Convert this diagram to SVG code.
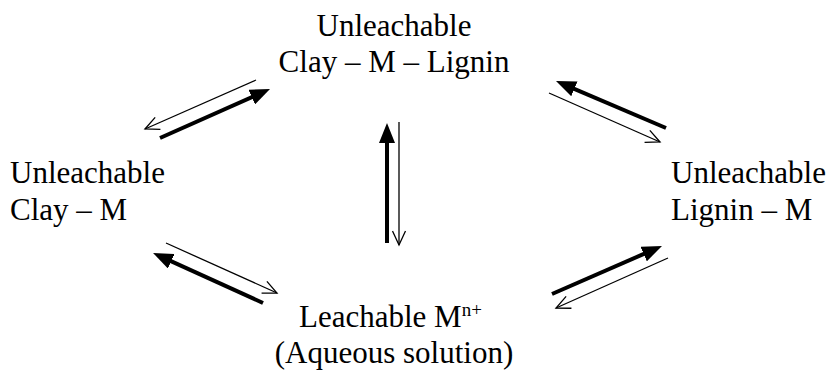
<svg xmlns="http://www.w3.org/2000/svg" width="832" height="371" viewBox="0 0 832 371">
<style>
text{font-family:'Liberation Serif',Tinos,'Times New Roman',Times,'DejaVu Serif',serif;font-size:31px;fill:#000}
.thin{stroke:#000;stroke-width:1.3;fill:none;marker-end:url(#oh)}
.thick{stroke:#000;stroke-width:4;fill:none;marker-end:url(#fh)}
</style>
<defs>
<marker id="fh" viewBox="0 0 20 16" markerWidth="20" markerHeight="16" refX="4" refY="8" orient="auto" markerUnits="userSpaceOnUse"><path d="M0,0 L20,8 L0,16 Z" fill="#000"/></marker>
<marker id="oh" viewBox="-1 -1 17 15" markerWidth="17" markerHeight="15" refX="14" refY="6.5" orient="auto" markerUnits="userSpaceOnUse"><path d="M0,0 L14,6.5 L0,13" fill="none" stroke="#000" stroke-width="1.3"/></marker>
</defs>
<g id="node-top" font-family="Liberation Serif, serif"><text x="394" y="36" text-anchor="middle">Unleachable</text><text x="394" y="72" text-anchor="middle">Clay – M – Lignin</text></g>
<g id="node-left"><text x="10" y="183">Unleachable</text><text x="10" y="220">Clay – M</text></g>
<g id="node-right"><text x="671" y="183">Unleachable</text><text x="671" y="220">Lignin – M</text></g>
<g id="node-bottom"><text x="299" y="327">Leachable M<tspan font-size="19" dy="-11">n+</tspan></text><text x="394" y="363" text-anchor="middle">(Aqueous solution)</text></g>
<g id="connectors">
<line class="thin" x1="256" y1="80" x2="145" y2="129"/>
<line class="thick" x1="160" y1="138" x2="255.4" y2="95.5"/>
<line class="thick" x1="666" y1="128" x2="570.7" y2="87.3"/>
<line class="thin" x1="549" y1="93" x2="660" y2="142"/>
<line class="thick" x1="387" y1="243" x2="387" y2="139"/>
<line class="thin" x1="399" y1="122" x2="399" y2="245"/>
<line class="thin" x1="166" y1="243" x2="277" y2="293"/>
<line class="thick" x1="263" y1="303" x2="167.6" y2="259.6"/>
<line class="thick" x1="552" y1="294" x2="647.3" y2="252.4"/>
<line class="thin" x1="668" y1="258" x2="556" y2="308"/>
</g>
</svg>
